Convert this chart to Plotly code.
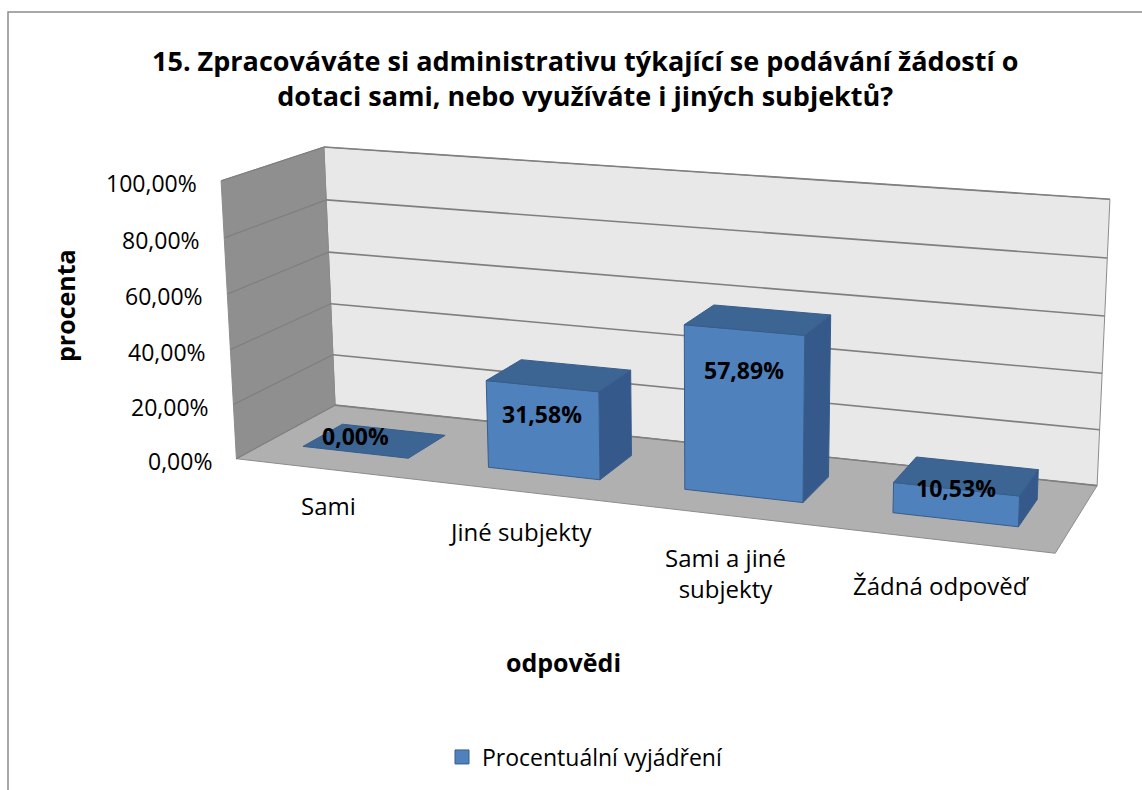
import numpy as np
import plotly.graph_objects as go

# ---------------- data ----------------
categories = ["Sami", "Jiné subjekty", "Sami a jiné<br>subjekty", "Žádná odpověď"]
values = [0.00, 31.58, 57.89, 10.53]
y_ticks = [0, 20, 40, 60, 80, 100]
series_name = "Procentuální vyjádření"
title_text = "15. Zpracováváte si administrativu týkající se podávání žádostí o<br>dotaci sami, nebo využíváte i jiných subjektů?"
x_title = "odpovědi"
y_title = "procenta"

def pct(v):
    return f"{v:.2f}%".replace(".", ",")

# ---------------- layout geometry (perspective frame) ----------------
W, H = 1142, 790
FONT = "Open Sans"
FRAME = [((0, 0, 0), (235.7, 460)), ((0, 0, 1), (336, 403)), ((1, 0, 1), (1097, 486)),
         ((1, 0, 0), (1055, 553)), ((0, 1, 0), (222, 181)), ((0, 1, 1), (323, 147)),
         ((1, 1, 1), (1110, 200)),
         ((0, .2, 0), (233.0, 405)), ((0, .4, 0), (230.2, 349.3)), ((0, .6, 0), (227.5, 293.3)), ((0, .8, 0), (224.8, 237.3)),
         ((0, .2, 1), (333.4, 356)), ((0, .4, 1), (330.8, 303.3)), ((0, .6, 1), (328.2, 253.3)), ((0, .8, 1), (325.6, 200)),
         ((1, .2, 1), (1099.6, 430)), ((1, .4, 1), (1102.2, 373.3)), ((1, .6, 1), (1104.8, 315.7)), ((1, .8, 1), (1107.4, 257.3))]

A = []
for (u, v, d), (x, y) in FRAME:
    xn, yn = (x - 600) / 500, (y - 400) / 500
    A.append([u, v, d, 1, 0, 0, 0, 0, -xn * u, -xn * v, -xn * d, -xn])
    A.append([0, 0, 0, 0, u, v, d, 1, -yn * u, -yn * v, -yn * d, -yn])
_, _, Vt = np.linalg.svd(np.array(A, float))
P = Vt[-1].reshape(3, 4)

def proj(u, v, d):
    r = P @ np.array([u, v, d, 1.0])
    return r[0] / r[2] * 500 + 600, r[1] / r[2] * 500 + 400

N = len(categories)
BAR_W = 0.575     # fraction of category slot
SHIFT = -0.01     # slot units
D0, D1 = 0.29, 0.70

fig = go.Figure()

def poly(pts3, fill, line, width=1):
    xy = [proj(*p) for p in pts3]
    xs = [p[0] for p in xy] + [xy[0][0]]
    ys = [p[1] for p in xy] + [xy[0][1]]
    fig.add_trace(go.Scatter(x=xs, y=ys, mode="lines", fill="toself", fillcolor=fill,
                             line=dict(color=line, width=width), hoverinfo="skip",
                             showlegend=False))

def seg(p, q, color="#8c8c8c", width=1.5):
    a, b = proj(*p), proj(*q)
    fig.add_trace(go.Scatter(x=[a[0], b[0]], y=[a[1], b[1]], mode="lines",
                             line=dict(color=color, width=width), hoverinfo="skip", showlegend=False))

# walls
poly([(0, 0, 1), (1, 0, 1), (1, 1, 1), (0, 1, 1)], "#e8e8e8", "#8c8c8c")
poly([(0, 0, 0), (0, 0, 1), (0, 1, 1), (0, 1, 0)], "#8f8f8f", "#8c8c8c")
poly([(0, 0, 0), (1, 0, 0), (1, 0, 1), (0, 0, 1)], "#b0b0b0", "#8c8c8c")
vmax = max(y_ticks)
for t in y_ticks:
    f = t / vmax
    seg((0, f, 0), (0, f, 1), "#7f7f7f", 1.2)
    seg((0, f, 1), (1, f, 1), "#7f7f7f", 1.6)

# bars
FRONT, TOP, SIDE, EDGE = "#4f81bd", "#3c6594", "#34598a", "#385d8a"
annotations = []
for i, val in enumerate(values):
    f = val / vmax
    uc = (i + 0.5 + SHIFT) / N
    uL, uR = uc - BAR_W / 2 / N, uc + BAR_W / 2 / N
    if f > 0:
        poly([(uR, 0, D0), (uR, 0, D1), (uR, f, D1), (uR, f, D0)], SIDE, EDGE)
        poly([(uL, 0, D0), (uR, 0, D0), (uR, f, D0), (uL, f, D0)], FRONT, EDGE)
    poly([(uL, f, D0), (uR, f, D0), (uR, f, D1), (uL, f, D1)], TOP, EDGE)
    xt, yt = proj(uc, f, D0)
    xb, yb = proj(uc, 0, D0)
    off = min(0.5 * (yb - yt) - 16, 40)
    annotations.append(dict(x=xt, y=yt + off, text=f"<b>{pct(val)}</b>", showarrow=False,
                            font=dict(family=FONT, size=23, color="black"), xref="x", yref="y"))

# value axis labels
for t in y_ticks:
    x0, y0 = proj(0, t / vmax, 0)
    annotations.append(dict(x=x0 - 22, y=y0 + 2, text=pct(t), showarrow=False, xanchor="right",
                            font=dict(family=FONT, size=23, color="black"), xref="x", yref="y"))

# category labels
for i, c in enumerate(categories):
    x0, y0 = proj((i + 0.5) / N, 0, 0)
    annotations.append(dict(x=x0, y=y0 + 18 + 3 * i, text=c, showarrow=False, yanchor="top",
                            font=dict(family=FONT, size=24, color="black"), xref="x", yref="y"))

annotations += [
    dict(x=585, y=78, xref="x", yref="y", text=f"<b>{title_text}</b>", showarrow=False,
         font=dict(family=FONT, size=27, color="black")),
    dict(x=563, y=662, xref="x", yref="y", text=f"<b>{x_title}</b>", showarrow=False,
         font=dict(family=FONT, size=25, color="black")),
    dict(x=65, y=306, xref="x", yref="y", text=f"<b>{y_title}</b>", showarrow=False, textangle=-90,
         font=dict(family=FONT, size=25, color="black")),
]

# legend swatch
fig.add_trace(go.Scatter(x=[None], y=[None], mode="markers", name=series_name,
                         marker=dict(symbol="square", size=14, color=FRONT, line=dict(color=EDGE, width=1))))

fig.update_layout(
    width=W, height=H, margin=dict(l=0, r=0, t=0, b=0),
    paper_bgcolor="white", plot_bgcolor="white",
    xaxis=dict(range=[0, W], visible=False, fixedrange=True),
    yaxis=dict(range=[H, 0], visible=False, fixedrange=True),
    showlegend=True,
    legend=dict(orientation="h", x=585 / W, xanchor="center", y=1 - 757 / H, yanchor="middle",
                font=dict(family=FONT, size=23, color="black"), itemwidth=30),
    shapes=[dict(type="rect", xref="x", yref="y", x0=8, y0=12, x1=W + 5, y1=H + 5,
                 line=dict(color="#8c8c8c", width=1.5), fillcolor="rgba(0,0,0,0)", layer="below")],
    annotations=annotations,
)

fig.write_html("out.html", config={"displayModeBar": False},
               post_script="document.body.style.margin='0';")
